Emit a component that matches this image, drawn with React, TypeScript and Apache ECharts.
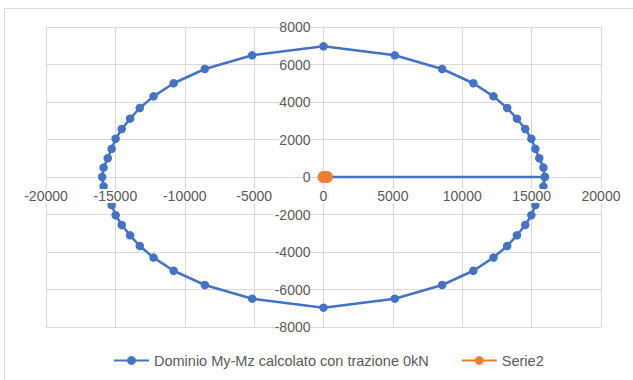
import React, { useEffect, useRef } from "react";
import * as echarts from "echarts";

const seriesNames = ["Dominio My-Mz calcolato con trazione 0kN", "Serie2"];

// Domain points (My on x, Mz on y)
const domainMy = [
  15950, 15850, 15550, 15270, 14980, 14540, 13940, 13240, 12250, 10800, 8550, 5140, 0,
  -5140, -8550, -10800, -12250, -13240, -13940, -14540, -14980, -15270, -15550, -15850, -15950,
  -15850, -15550, -15270, -14980, -14540, -13940, -13240, -12250, -10800, -8550, -5140, 0,
  5140, 8550, 10800, 12250, 13240, 13940, 14540, 14980, 15270, 15550, 15850, 15950,
  0,
];
const domainMz = [
  0, 500, 1000, 1500, 2040, 2560, 3110, 3680, 4300, 5000, 5760, 6490, 6970,
  6490, 5760, 5000, 4300, 3680, 3110, 2560, 2040, 1500, 1000, 500, 0,
  -500, -1000, -1500, -2040, -2560, -3110, -3680, -4300, -5000, -5760, -6490, -6970,
  -6490, -5760, -5000, -4300, -3680, -3110, -2560, -2040, -1500, -1000, -500, 0,
  0,
];

const serie2My = [0, 250];
const serie2Mz = [0, 0];

const xMin = -20000;
const xMax = 20000;
const xStep = 5000;
const yMin = -8000;
const yMax = 8000;
const yStep = 2000;

const FONT = "'Liberation Sans', Arial, sans-serif";
const TEXT = "#595959";
const GRID = "#d9d9d9";

const GRID_LEFT = 46;
const GRID_RIGHT = 32;
const GRID_TOP = 27;
const GRID_BOTTOM = 53;
const W = 633;
const H = 380;

export default function App() {
  const ref = useRef<HTMLDivElement>(null);

  useEffect(() => {
    if (!ref.current) return;
    const chart = echarts.init(ref.current, null, { renderer: "svg" });

    const domainData = domainMy.map((x, i) => [x, domainMz[i]]);
    const serie2Data = serie2My.map((x, i) => [x, serie2Mz[i]]);

    const plotW = W - GRID_LEFT - GRID_RIGHT;
    const plotH = H - GRID_TOP - GRID_BOTTOM;
    const xZeroFrac = (0 - xMin) / (xMax - xMin);
    const yZeroFrac = (0 - yMin) / (yMax - yMin);

    const labelStyle = {
      color: TEXT,
      fontSize: 14,
      fontFamily: FONT,
      backgroundColor: "#ffffff",
      formatter: (v: number) => String(v),
    };

    chart.setOption({
      animation: false,
      backgroundColor: "#ffffff",
      textStyle: { fontFamily: FONT },
      grid: {
        left: GRID_LEFT,
        right: GRID_RIGHT,
        top: GRID_TOP,
        bottom: GRID_BOTTOM,
        containLabel: false,
        outerBoundsMode: "none",
      },
      graphic: [
        {
          type: "rect",
          shape: { x: 4.5, y: 8.5, width: 700, height: 400 },
          style: { fill: "none", stroke: GRID, lineWidth: 1 },
          silent: true,
          z: -1,
        },
      ],
      legend: {
        left: 113,
        top: 353,
        padding: 0,
        itemWidth: 35,
        itemHeight: 11,
        itemGap: 32,
        textStyle: { color: TEXT, fontSize: 14.5, fontFamily: FONT },
        data: seriesNames,
      },
      xAxis: [
        {
          type: "value",
          min: xMin,
          max: xMax,
          interval: xStep,
          axisLine: { show: true, onZero: true, lineStyle: { color: GRID, width: 1 } },
          axisTick: { show: false },
          axisLabel: { show: false },
          splitLine: { show: true, lineStyle: { color: GRID, width: 1 } },
        },
        {
          type: "value",
          position: "bottom",
          offset: -plotH * yZeroFrac,
          min: xMin,
          max: xMax,
          interval: xStep,
          z: 5,
          axisLine: { show: false, onZero: false },
          axisTick: { show: false },
          splitLine: { show: false },
          axisLabel: { ...labelStyle, margin: 12 },
        },
      ],
      yAxis: [
        {
          type: "value",
          min: yMin,
          max: yMax,
          interval: yStep,
          axisLine: { show: true, onZero: true, lineStyle: { color: GRID, width: 1 } },
          axisTick: { show: false },
          axisLabel: { show: false },
          splitLine: { show: true, lineStyle: { color: GRID, width: 1 } },
        },
        {
          type: "value",
          position: "left",
          offset: -plotW * xZeroFrac,
          min: yMin,
          max: yMax,
          interval: yStep,
          z: 5,
          axisLine: { show: false, onZero: false },
          axisTick: { show: false },
          splitLine: { show: false },
          axisLabel: { ...labelStyle, margin: 13 },
        },
      ],
      series: [
        {
          name: seriesNames[0],
          type: "line",
          xAxisIndex: 0,
          yAxisIndex: 0,
          data: domainData,
          symbol: "circle",
          symbolSize: 8.5,
          showAllSymbol: true,
          lineStyle: { color: "#4472C4", width: 2.5 },
          itemStyle: { color: "#4472C4" },
          z: 2,
        },
        {
          name: seriesNames[1],
          type: "line",
          xAxisIndex: 0,
          yAxisIndex: 0,
          data: serie2Data,
          symbol: "circle",
          symbolSize: 12,
          showAllSymbol: true,
          lineStyle: { color: "#ED7D31", width: 2.5 },
          itemStyle: { color: "#ED7D31" },
          z: 3,
        },
      ],
    });

    return () => chart.dispose();
  }, []);

  return (
    <div
      ref={ref}
      style={{ position: "fixed", left: 0, top: 0, width: W, height: H, background: "#fff" }}
    />
  );
}
